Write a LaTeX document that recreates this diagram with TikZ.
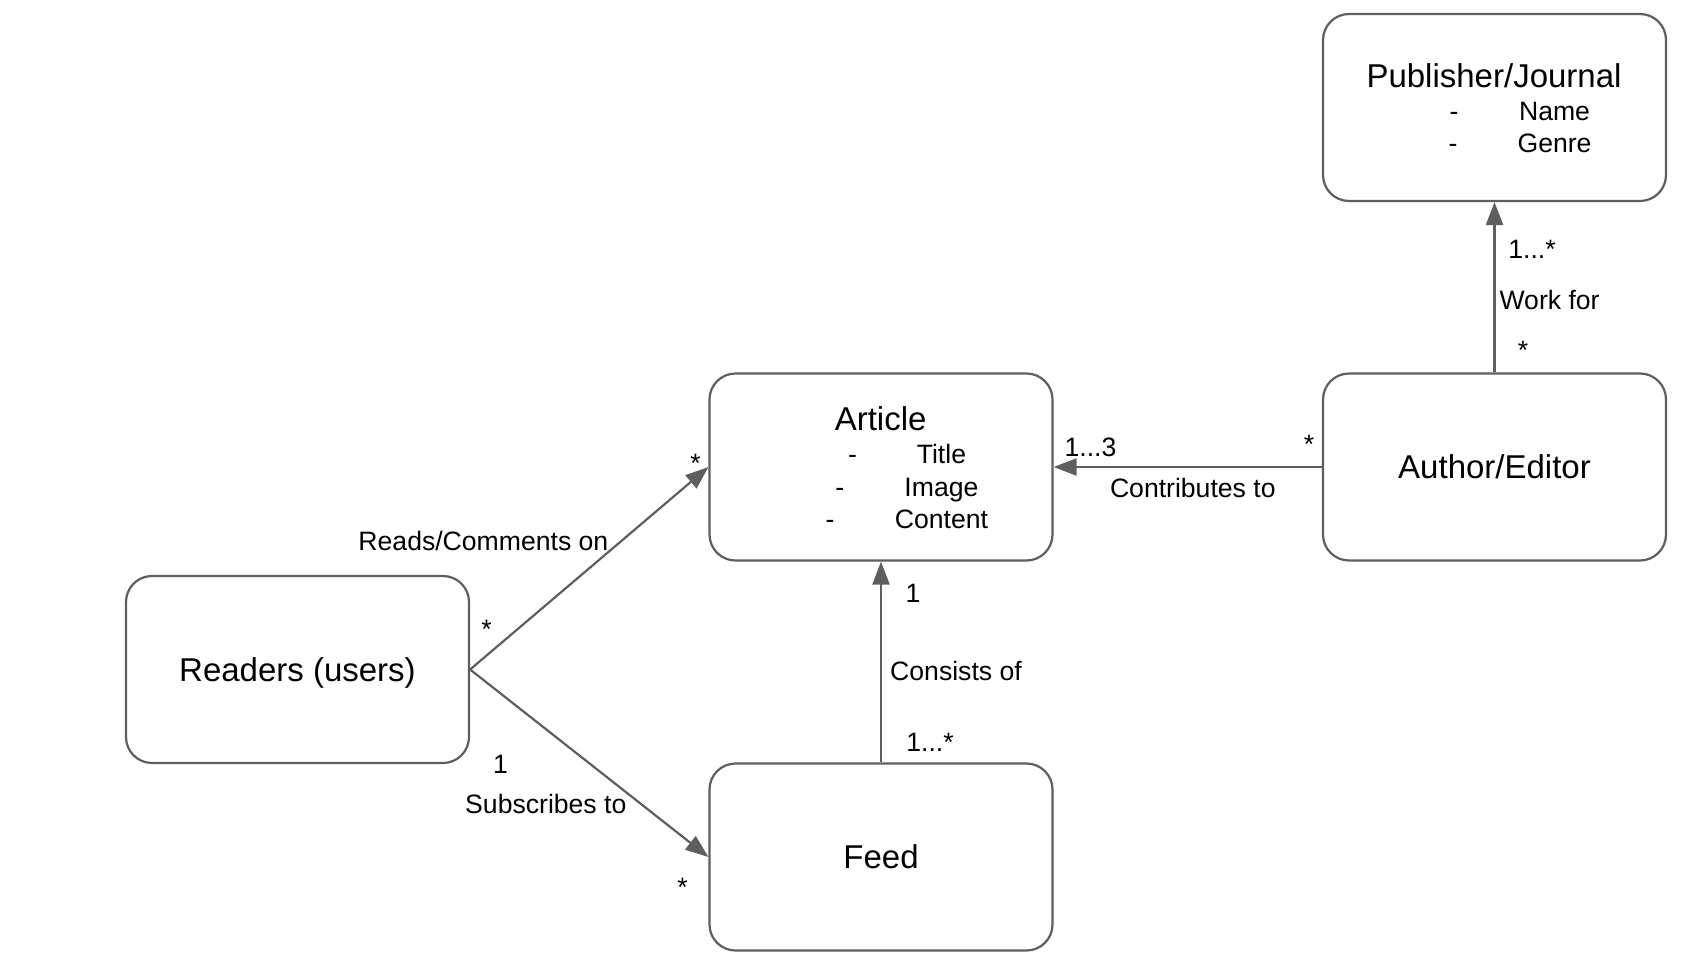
\documentclass[tikz,border=0pt]{standalone}
\usepackage{fontspec}
\setmainfont{Liberation Sans}
\usetikzlibrary{arrows.meta}
\definecolor{linegray}{HTML}{5E5E5E}
\begin{document}
\begin{tikzpicture}[x=1pt,y=-1pt,
  entity/.style={draw=linegray, line width=2.2pt, rounded corners=26pt,
    minimum width=343pt, minimum height=187pt, inner sep=0pt,
    font=\fontsize{33}{38}\selectfont, text height=23.6pt, text depth=0pt},
  bigtxt/.style={font=\fontsize{33}{38}\selectfont, inner sep=0pt, anchor=base},
  smalltxt/.style={font=\fontsize{26.6}{31}\selectfont, inner sep=0pt, anchor=base},
  assoc/.style={draw=linegray, line width=2.2pt, -{Triangle[length=23pt,width=17pt]}},
]
\useasboundingbox (0,0) rectangle (1688,963);

% classes
\node[entity] (pub)  at (1494.5,107.5) {};
\node[entity] (auth) at (1494.5,467) {Author/Editor};
\node[entity] (art)  at (881,467) {};
\node[entity] (feed) at (881,857) {Feed};
\node[entity] (read) at (297.5,669.5) {Readers (users)};

% Publisher/Journal attributes
\node[bigtxt]   (pubname) at (1494,87.5) {Publisher/Journal};
\node[smalltxt] (pubd1) at (1454,120.5) {-};
\node[smalltxt] (puba1) at (1554.5,120.5) {Name};
\node[smalltxt] (pubd2) at (1453,152.5) {-};
\node[smalltxt] (puba2) at (1554.5,152.5) {Genre};

% Article attributes
\node[bigtxt]   (artname) at (880.6,430.5) {Article};
\node[smalltxt] (artd1) at (852.6,463.5) {-};
\node[smalltxt] (arta1) at (941.4,463.5) {Title};
\node[smalltxt] (artd2) at (839.7,496) {-};
\node[smalltxt] (arta2) at (941.4,496) {Image};
\node[smalltxt] (artd3) at (830,528.5) {-};
\node[smalltxt] (arta3) at (941.4,528.5) {Content};

% associations
\draw[assoc] (auth.north) -- (pub.south);
\draw[assoc] (auth.west) -- (art.east);
\draw[assoc] (feed.north) -- (art.south);
\draw[assoc] (read.east) -- (art.west);
\draw[assoc] (read.east) -- (feed.west);

% Work for
\node[smalltxt] (wfm1) at (1532,258.5) {1...*};
\node[smalltxt] (wfl)  at (1549.6,309.5) {Work for};
\node[smalltxt] (wfm2) at (1523,359) {*};

% Contributes to
\node[smalltxt] (ctm1) at (1090.5,456) {1...3};
\node[smalltxt] (ctm2) at (1309,453) {*};
\node[smalltxt] (ctl)  at (1192.8,497.5) {Contributes to};

% Consists of
\node[smalltxt] (com1) at (913,602.5) {1};
\node[smalltxt] (col)  at (956,680) {Consists of};
\node[smalltxt] (com2) at (930,751) {1...*};

% Reads/Comments on
\node[smalltxt] (rcm1) at (695.5,472) {*};
\node[smalltxt] (rcl)  at (483.4,550) {Reads/Comments on};
\node[smalltxt] (rcm2) at (486.6,638) {*};

% Subscribes to
\node[smalltxt] (sbm1) at (500.6,773) {1};
\node[smalltxt] (sbl)  at (545.8,813.5) {Subscribes to};
\node[smalltxt] (sbm2) at (682.5,896) {*};
\end{tikzpicture}
\end{document}
